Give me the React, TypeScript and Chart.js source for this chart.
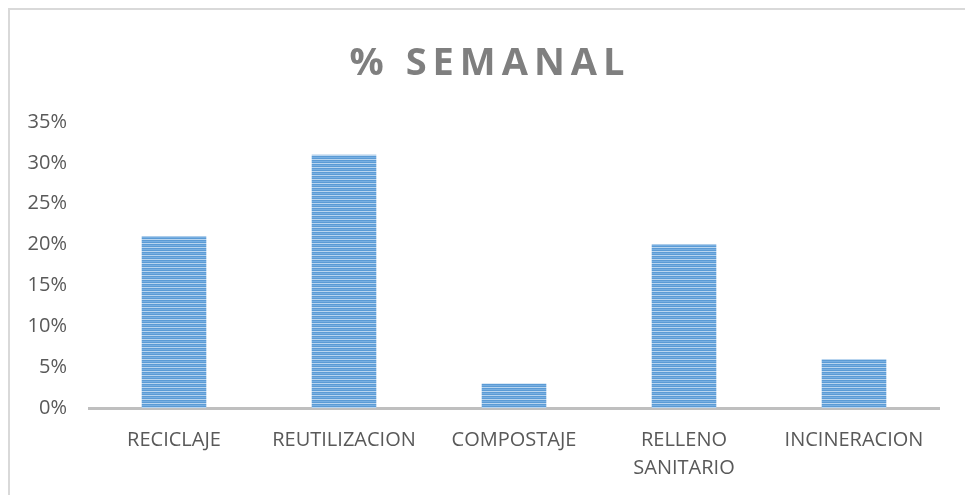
import React, { useEffect, useRef } from "react";
import { Chart, registerables } from "chart.js";

Chart.register(...registerables);

const titleText = "% SEMANAL";
const categories: (string | string[])[] = [
  "RECICLAJE",
  "REUTILIZACION",
  "COMPOSTAJE",
  ["RELLENO", "SANITARIO"],
  "INCINERACION",
];
const weeklyPercent = [21, 31, 3, 20, 6];
const yMax = 35;
const yStep = 5;

function makePattern(): CanvasPattern | string {
  const c = document.createElement("canvas");
  c.width = 4;
  c.height = 4;
  const g = c.getContext("2d");
  if (!g) return "#5b9bd5";
  const rows = ["#5b9bd5", "#78afe2", "#5b9bd5", "#b9d5ef"];
  rows.forEach((col, i) => {
    g.fillStyle = col;
    g.fillRect(0, i, 4, 1);
  });
  const p = g.createPattern(c, "repeat");
  return p || "#5b9bd5";
}

const framePlugin = {
  id: "frame",
  beforeDraw(chart: any) {
    const ctx = chart.ctx;
    ctx.save();
    ctx.fillStyle = "#ffffff";
    ctx.fillRect(0, 0, chart.width, chart.height);
    ctx.strokeStyle = "#d9d9d9";
    ctx.lineWidth = 2;
    ctx.strokeRect(9, 9, chart.width + 20, chart.height + 20);
    ctx.restore();
  },
  afterDraw(chart: any) {
    const ctx = chart.ctx;
    ctx.save();
    (ctx as any).letterSpacing = "6px";
    ctx.font = "bold 38px 'Open Sans'";
    ctx.fillStyle = "#7f7f7f";
    ctx.textAlign = "center";
    ctx.textBaseline = "alphabetic";
    ctx.fillText(titleText, 490, 75);
    ctx.restore();
  },
};

export default function App() {
  const ref = useRef<HTMLCanvasElement>(null);
  useEffect(() => {
    if (!ref.current) return;
    const chart = new Chart(ref.current, {
      type: "bar",
      data: {
        labels: categories as any,
        datasets: [
          {
            data: weeklyPercent,
            backgroundColor: makePattern() as any,
            borderWidth: 0,
            barPercentage: 1,
            categoryPercentage: 0.38,
          },
        ],
      },
      plugins: [framePlugin],
      options: {
        responsive: false,
        animation: false,
        layout: { padding: { left: 0, right: 26, top: 122, bottom: 0 } },
        plugins: {
          legend: { display: false },
          title: { display: false },
          tooltip: { enabled: false },
        },
        scales: {
          x: {
            grid: { display: false, drawTicks: false },
            border: { display: true, color: "#bfbfbf", width: 3 },
            ticks: {
              color: "#595959",
              font: { family: "'Open Sans'", size: 20, lineHeight: 1.4 },
              padding: 18,
              maxRotation: 0,
              autoSkip: false,
            },
            afterFit(scale: any) {
              scale.height = 87;
            },
          },
          y: {
            min: 0,
            max: yMax,
            grid: { display: false, drawTicks: false },
            border: { display: false },
            ticks: {
              stepSize: yStep,
              color: "#595959",
              font: { family: "'Open Sans'", size: 20 },
              padding: 22,
              callback: (v: any) => v + "%",
            },
            afterFit(scale: any) {
              scale.width = 89;
            },
          },
        },
      },
    });
    return () => chart.destroy();
  }, []);
  return (
    <div style={{ position: "absolute", left: 0, top: 0, width: 965, height: 495 }}>
      <canvas ref={ref} width={965} height={495} style={{ display: "block" }} />
    </div>
  );
}
